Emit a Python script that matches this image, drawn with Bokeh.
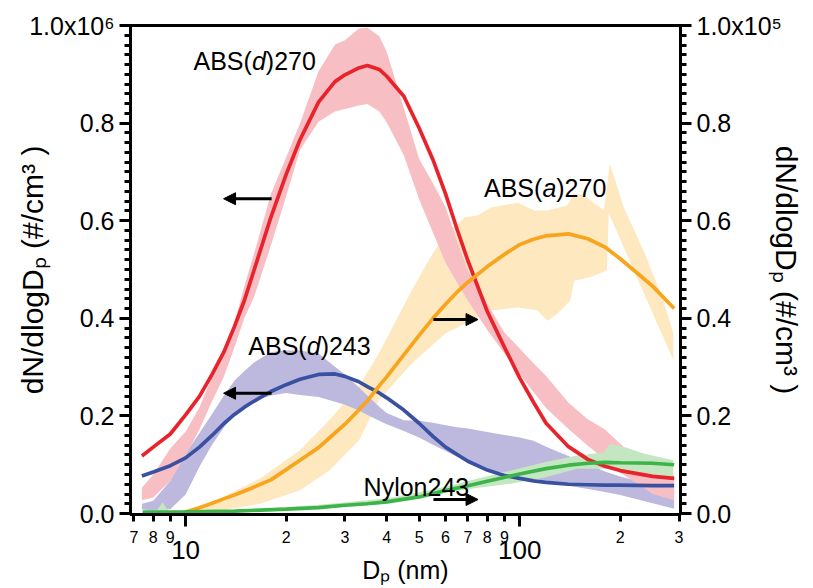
from bokeh.plotting import figure
from bokeh.models import Range1d, LinearAxis, LogAxis, FixedTicker, Label, Arrow, NormalHead
from bokeh.embed import file_html
from bokeh.resources import INLINE

FONT = "Liberation Sans"
LEFT_UNIT = 1e6    # left axis values are given in units of 10^6 #/cm3
RIGHT_UNIT = 1e5   # right axis values are given in units of 10^5 #/cm3

# ---------------- data ----------------
# common diameter samples (nm) for ABS(d)270 and ABS(d)243
d_samples = [7.4, 8, 9, 10, 11, 12, 13, 14, 15, 16, 18, 20, 22, 25, 28, 30, 33, 35, 38, 40,
             45, 50, 55, 60, 65, 70, 80, 90, 100, 110, 120, 140, 160, 180, 200, 250, 290]

# ABS(d)270 (left axis)
absd270_fit = [0.118, 0.136, 0.163, 0.202, 0.240, 0.285, 0.330, 0.383, 0.437, 0.497, 0.607, 0.695,
               0.766, 0.843, 0.885, 0.899, 0.913, 0.918, 0.910, 0.896, 0.855, 0.790, 0.725, 0.655,
               0.582, 0.518, 0.414, 0.341, 0.278, 0.228, 0.185, 0.137, 0.111, 0.097, 0.088, 0.076, 0.072]
absd270_hi = [0.053, 0.080, 0.133, 0.168, 0.217, 0.281, 0.334, 0.391, 0.466, 0.531, 0.654, 0.730,
              0.799, 0.906, 0.961, 0.970, 0.994, 0.996, 0.978, 0.946, 0.831, 0.727, 0.677, 0.628,
              0.558, 0.498, 0.430, 0.371, 0.338, 0.308, 0.282, 0.227, 0.193, 0.172, 0.143, 0.085, 0.078]
absd270_lo = [0.027, 0.033, 0.067, 0.119, 0.172, 0.230, 0.279, 0.340, 0.401, 0.442, 0.549, 0.650,
              0.745, 0.803, 0.824, 0.829, 0.836, 0.839, 0.824, 0.801, 0.734, 0.644, 0.576, 0.514,
              0.473, 0.436, 0.376, 0.328, 0.286, 0.249, 0.216, 0.173, 0.139, 0.110, 0.084, 0.040, 0.027]

# ABS(d)243 (left axis)
absd243_fit = [0.077, 0.085, 0.098, 0.114, 0.136, 0.160, 0.184, 0.203, 0.218, 0.230, 0.250, 0.264,
               0.275, 0.285, 0.286, 0.281, 0.270, 0.260, 0.247, 0.237, 0.212, 0.185, 0.158, 0.136,
               0.121, 0.107, 0.089, 0.078, 0.072, 0.067, 0.064, 0.060, 0.059, 0.058, 0.058, 0.057, 0.057]
absd243_hi = [0.020, 0.026, 0.067, 0.123, 0.165, 0.204, 0.241, 0.272, 0.292, 0.309, 0.331, 0.334,
              0.334, 0.328, 0.301, 0.285, 0.259, 0.242, 0.219, 0.206, 0.191, 0.190, 0.186, 0.181,
              0.177, 0.174, 0.167, 0.161, 0.156, 0.149, 0.137, 0.118, 0.101, 0.086, 0.076, 0.058, 0.047]
absd243_lo = [0.008, 0.006, 0.009, 0.039, 0.096, 0.141, 0.176, 0.204, 0.220, 0.231, 0.242, 0.247,
              0.243, 0.239, 0.229, 0.223, 0.211, 0.202, 0.190, 0.183, 0.169, 0.156, 0.141, 0.128,
              0.116, 0.105, 0.090, 0.083, 0.077, 0.072, 0.067, 0.057, 0.050, 0.044, 0.038, 0.021, 0.010]

# ABS(a)270 (right axis)
absa270_fit_d = [9.66, 10, 11, 12, 13, 14, 15, 16, 18, 20, 22, 25, 28, 30, 33, 35, 38, 40, 45, 50,
                 55, 60, 65, 70, 80, 90, 100, 110, 120, 140, 160, 180, 200, 250, 290]
absa270_fit = [0.0, 0.003, 0.012, 0.021, 0.030, 0.038, 0.046, 0.054, 0.069, 0.090, 0.109, 0.135,
               0.165, 0.183, 0.212, 0.231, 0.262, 0.280, 0.325, 0.365, 0.400, 0.429, 0.454, 0.474,
               0.506, 0.531, 0.551, 0.562, 0.569, 0.573, 0.563, 0.546, 0.522, 0.466, 0.420]
absa270_hi_d = [10.0, 12.7, 16.7, 21.94, 26.93, 33.06, 37.9, 47.5, 53.33, 59.91, 68.67, 75.06, 82.02,
                98.65, 110.8, 121.1, 138.8, 145.6, 156.0, 178.7, 186.2, 205.0, 234.9, 269.4, 288.4]
absa270_hi = [0.002, 0.031, 0.072, 0.129, 0.191, 0.262, 0.328, 0.457, 0.518, 0.574, 0.607, 0.611, 0.627,
              0.637, 0.621, 0.621, 0.631, 0.656, 0.652, 0.621, 0.717, 0.627, 0.539, 0.436, 0.369]
absa270_lo_d = [10.0, 12.7, 16.7, 21.94, 26.93, 33.06, 37.9, 47.5, 59.91, 71.55, 82.02, 98.65, 113.1,
                121.1, 129.7, 141.7, 145.6, 162.4, 182.4, 184.9, 288.4]
absa270_lo = [0.0, 0.006, 0.020, 0.047, 0.088, 0.150, 0.232, 0.307, 0.369, 0.395, 0.416, 0.422, 0.416,
              0.395, 0.410, 0.436, 0.477, 0.484, 0.498, 0.615, 0.314]

# Nylon243 (right axis)
nylon_fit_d = [7.44, 10, 14, 20, 25, 30, 35, 40, 50, 60, 70, 80, 100, 120, 140, 160, 180, 200, 250, 290]
nylon_fit = [0.003, 0.0035, 0.005, 0.009, 0.012, 0.017, 0.020, 0.024, 0.034, 0.047, 0.057, 0.066,
             0.081, 0.092, 0.099, 0.103, 0.105, 0.104, 0.103, 0.100]
nylon_hi_d = [7.44, 8.15, 8.53, 8.90, 15.91, 25.16, 39.76, 49.82, 59.91, 75.06, 94.04, 118.7, 148.6,
              178.7, 186.2, 209.2, 234.9, 288.4]
nylon_hi = [0.004, 0.004, 0.023, 0.004, 0.008, 0.018, 0.031, 0.043, 0.055, 0.072, 0.088, 0.105, 0.119,
            0.125, 0.143, 0.135, 0.123, 0.109]
nylon_lo_d = [7.44, 15.91, 25.16, 39.76, 49.82, 59.91, 75.06, 94.04, 118.7, 148.6, 186.2, 234.9, 288.4]
nylon_lo = [0.0, 0.004, 0.010, 0.020, 0.031, 0.043, 0.053, 0.061, 0.074, 0.092, 0.092, 0.084, 0.074]

# axis ticks
y_major = [0, 200000, 400000, 600000, 800000, 1000000]
y_major_labels = ["0.0", "0.2", "0.4", "0.6", "0.8", "1.0x10\u2076"]
y2_major = [0, 20000, 40000, 60000, 80000, 100000]
y2_major_labels = ["0.0", "0.2", "0.4", "0.6", "0.8", "1.0x10\u2075"]
x_minor_ticks = [7, 8, 9, 20, 30, 40, 50, 60, 70, 80, 90, 200, 300]
x_minor_labels = ["7", "8", "9", "2", "3", "4", "5", "6", "7", "8", "9", "2", "3"]
x_decades = [10, 100]
x_decade_labels = ["10", "100"]

# colours
RED, PINK = "#E8232B", "#F7BFC3"
BLUE, LAVENDER = "#3A51A2", "#BDB9DE"
ORANGE, YELLOW = "#F8A41C", "#FEE8C0"
GREEN, LGREEN = "#3CB44A", "#C4E6C0"

# ---------------- figure ----------------
W, H = 805, 586
p = figure(width=W, height=H, x_axis_type="log",
           x_range=Range1d(6.84, 303), y_range=Range1d(-0.002 * LEFT_UNIT, 1.0 * LEFT_UNIT),
           output_backend="svg", toolbar_location=None, title=None,
           min_border_left=130, min_border_right=120, min_border_top=25, min_border_bottom=72)
p.extra_y_ranges = {"right": Range1d(-0.002 * RIGHT_UNIT, 1.0 * RIGHT_UNIT)}
p.xgrid.visible = False
p.ygrid.visible = False
p.outline_line_color = "black"
p.outline_line_width = 3
p.background_fill_color = "white"
p.border_fill_color = "white"


def style_axis(ax, major_out, minor_out, label_size):
    ax.axis_line_width = 3
    ax.axis_line_color = "black"
    ax.major_tick_line_width = 3
    ax.minor_tick_line_width = 3
    ax.major_tick_in = 0
    ax.minor_tick_in = 0
    ax.major_tick_out = major_out
    ax.minor_tick_out = minor_out
    ax.major_label_text_font = FONT
    ax.major_label_text_font_size = label_size
    ax.major_label_text_color = "black"
    ax.axis_label_text_font = FONT
    ax.axis_label_text_font_style = "normal"
    ax.axis_label_text_color = "black"


Y_TITLE = "dN/dlogD\u209a (#/cm\u00b3 )"

# left axis
yl = p.yaxis[0]
yl.ticker = FixedTicker(ticks=y_major,
                        minor_ticks=[k * 20000 for k in range(51) if k % 10])
yl.major_label_overrides = dict(zip(y_major, y_major_labels))
style_axis(yl, 11, 6, "25px")
yl.major_label_standoff = 5
yl.axis_label = Y_TITLE
yl.axis_label_text_font_size = "30px"
yl.axis_label_standoff = -23

# right axis
yr = LinearAxis(y_range_name="right")
yr.ticker = FixedTicker(ticks=y2_major,
                        minor_ticks=[k * 2000 for k in range(51) if k % 10])
yr.major_label_overrides = dict(zip(y2_major, y2_major_labels))
style_axis(yr, 11, 6, "25px")
yr.major_label_standoff = 5
yr.axis_label = Y_TITLE
yr.axis_label_text_font_size = "30px"
yr.axis_label_standoff = -15
p.add_layout(yr, "right")

# bottom axis: small labels of the intermediate ticks
xa = p.xaxis[0]
xa.ticker = FixedTicker(ticks=x_minor_ticks, minor_ticks=x_decades)
xa.major_label_overrides = dict(zip(x_minor_ticks, x_minor_labels))
style_axis(xa, 7, 12, "16px")
xa.major_label_standoff = 4

# bottom axis: decade labels + title
xb = LogAxis(ticker=FixedTicker(ticks=x_decades, minor_ticks=[]))
xb.major_label_overrides = dict(zip(x_decades, x_decade_labels))
style_axis(xb, 0, 0, "26px")
xb.axis_line_color = None
xb.major_tick_line_color = None
xb.minor_tick_line_color = None
xb.major_label_standoff = -5
xb.axis_label = "D\u209a (nm)"
xb.axis_label_text_font_size = "25px"
xb.axis_label_standoff = -6
p.add_layout(xb, "below")


# ---------------- bands ----------------
def band(up_d, up_v, lo_d, lo_v, unit, color, rng=None):
    xs = list(up_d) + list(lo_d)[::-1]
    ys = [v * unit for v in list(up_v) + list(lo_v)[::-1]]
    kw = {"y_range_name": rng} if rng else {}
    p.patch(xs, ys, fill_color=color, line_color=None, **kw)


band(absa270_hi_d, absa270_hi, absa270_lo_d, absa270_lo, RIGHT_UNIT, YELLOW, "right")
band(d_samples, absd243_hi, d_samples, absd243_lo, LEFT_UNIT, LAVENDER)
band(d_samples, absd270_hi, d_samples, absd270_lo, LEFT_UNIT, PINK)
band(nylon_hi_d, nylon_hi, nylon_lo_d, nylon_lo, RIGHT_UNIT, LGREEN, "right")

# ---------------- fitted lines ----------------
LW = 3.7
p.line(d_samples, [v * LEFT_UNIT for v in absd270_fit], line_color=RED, line_width=LW)
p.line(d_samples, [v * LEFT_UNIT for v in absd243_fit], line_color=BLUE, line_width=LW)
p.line(absa270_fit_d, [v * RIGHT_UNIT for v in absa270_fit], line_color=ORANGE, line_width=LW,
       y_range_name="right")
p.line(nylon_fit_d, [v * RIGHT_UNIT for v in nylon_fit], line_color=GREEN, line_width=LW,
       y_range_name="right")


# ---------------- annotations ----------------
def tag(x, y, parts, rng=None):
    off = 0.0
    for txt, italic, width in parts:
        kw = {"y_range_name": rng} if rng else {}
        p.add_layout(Label(x=x, y=y, text=txt, x_offset=off, text_font=FONT,
                           text_font_size="25px", text_baseline="alphabetic",
                           text_font_style="italic" if italic else "normal",
                           text_color="black", **kw))
        off += width


# widths (px) of the pieces at 25px
tag(10.56, 0.928 * LEFT_UNIT, [("ABS(", False, 58.4), ("d", True, 13.9), (")270", False, 0)])
tag(15.41, 0.344 * LEFT_UNIT, [("ABS(", False, 58.4), ("d", True, 13.9), (")243", False, 0)])
tag(78.2, 0.668 * RIGHT_UNIT, [("ABS(", False, 58.4), ("a", True, 13.9), (")270", False, 0)], "right")
tag(34.1, 0.0553 * RIGHT_UNIT, [("Nylon243", False, 0)], "right")


def arrow(x0, x1, y, rng=None):
    kw = {"y_range_name": rng} if rng else {}
    p.add_layout(Arrow(end=NormalHead(size=12, fill_color="black", line_color="black", line_width=1),
                       x_start=x0, y_start=y, x_end=x1, y_end=y,
                       line_color="black", line_width=3, **kw))


arrow(18.09, 12.99, 0.645 * LEFT_UNIT)
arrow(18.09, 12.99, 0.2465 * LEFT_UNIT)
arrow(55.2, 75.06, 0.3975 * RIGHT_UNIT, "right")
arrow(55.2, 75.06, 0.0287 * RIGHT_UNIT, "right")

open("out.html", "w").write(file_html(p, INLINE))
